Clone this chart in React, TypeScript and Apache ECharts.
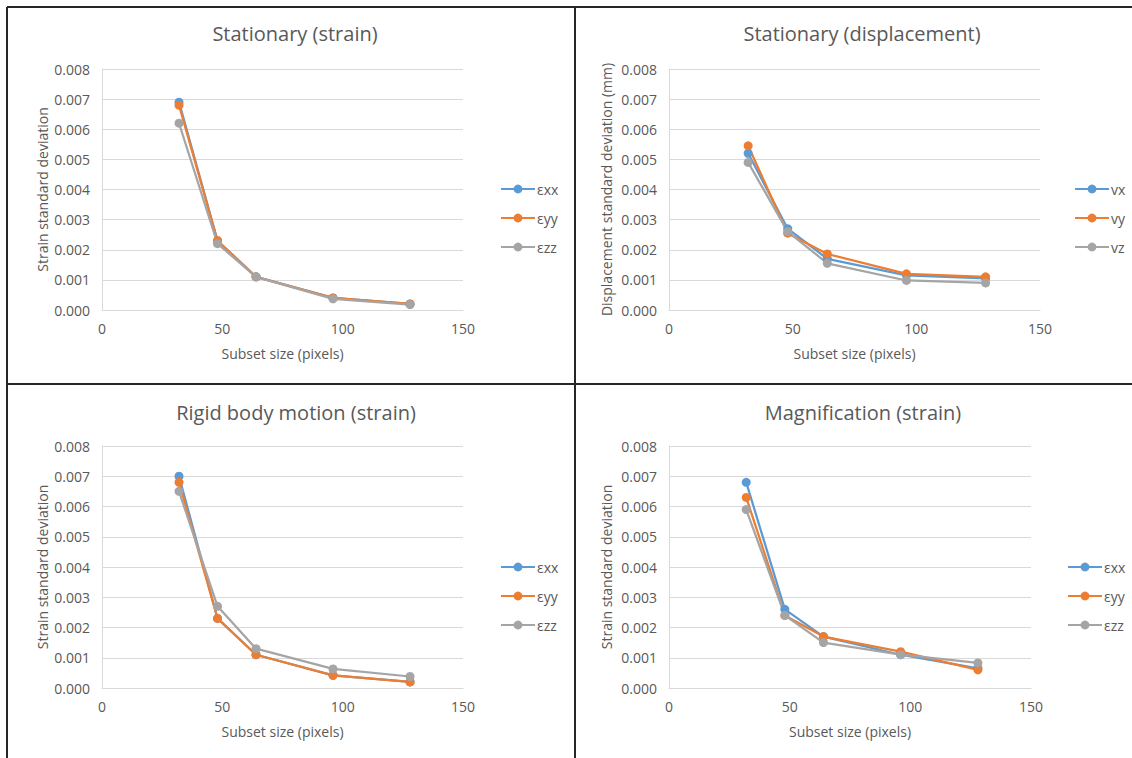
import React, { useEffect, useRef } from "react";
import * as echarts from "echarts";

const subsetSizes = [32, 48, 64, 96, 128];

const strainNames = ["εxx", "εyy", "εzz"];
const dispNames = ["vx", "vy", "vz"];

const titles = [
  "Stationary (strain)",
  "Stationary (displacement)",
  "Rigid body motion (strain)",
  "Magnification (strain)",
];

const yNames = [
  "Strain standard deviation",
  "Displacement standard deviation (mm)",
  "Strain standard deviation",
  "Strain standard deviation",
];

const xName = "Subset size (pixels)";

// Stationary (strain)
const statExx = [0.0069, 0.0023, 0.0011, 0.0004, 0.0002];
const statEyy = [0.0068, 0.0023, 0.0011, 0.0004, 0.0002];
const statEzz = [0.0062, 0.0022, 0.0011, 0.00037, 0.00018];

// Stationary (displacement)
const dispVx = [0.0052, 0.0027, 0.0017, 0.00115, 0.00105];
const dispVy = [0.00545, 0.00255, 0.00186, 0.0012, 0.0011];
const dispVz = [0.0049, 0.0026, 0.00155, 0.00098, 0.0009];

// Rigid body motion (strain)
const rigidExx = [0.007, 0.0023, 0.0011, 0.00042, 0.0002];
const rigidEyy = [0.0068, 0.0023, 0.0011, 0.00042, 0.0002];
const rigidEzz = [0.0065, 0.0027, 0.0013, 0.00063, 0.00038];

// Magnification (strain)
const magExx = [0.0068, 0.0026, 0.0017, 0.0011, 0.00065];
const magEyy = [0.0063, 0.0024, 0.0017, 0.0012, 0.0006];
const magEzz = [0.0059, 0.0024, 0.0015, 0.0011, 0.00083];

const colors = ["#5B9BD5", "#ED7D31", "#A5A5A5"];
const FONT = "'Open Sans', sans-serif";
const TXT = "#595959";
const GRID = "#D9D9D9";

export default function App() {
  const ref = useRef<HTMLDivElement>(null);

  useEffect(() => {
    if (!ref.current) return;
    const chart = echarts.init(ref.current, null, { renderer: "svg" });

    const grids = [
      { left: 102, right: 1132 - 463, top: 69, bottom: 758 - 310 },
      { left: 669, right: 1132 - 1040, top: 69, bottom: 758 - 310 },
      { left: 102, right: 1132 - 463, top: 446, bottom: 758 - 688 },
      { left: 669, right: 1132 - 1031, top: 446, bottom: 758 - 688 },
    ];

    const panelData = [
      { names: strainNames, vals: [statExx, statEyy, statEzz] },
      { names: dispNames, vals: [dispVx, dispVy, dispVz] },
      { names: strainNames, vals: [rigidExx, rigidEyy, rigidEzz] },
      { names: strainNames, vals: [magExx, magEyy, magEzz] },
    ];

    const titleCenters = [
      { x: 290, y: 18 },
      { x: 857, y: 18 },
      { x: 291, y: 397 },
      { x: 858, y: 397 },
    ];

    const legendPos = [
      { left: 495, top: 177 },
      { left: 1069, top: 177 },
      { left: 495, top: 555 },
      { left: 1062, top: 555 },
    ];

    const yNameGap = [53, 56, 53, 56];

    const series: any[] = [];
    panelData.forEach((p, gi) => {
      p.names.forEach((n, si) => {
        series.push({
          type: "line",
          name: n,
          xAxisIndex: gi,
          yAxisIndex: gi,
          data: subsetSizes.map((x, i) => [x, p.vals[si][i]]),
          symbol: "circle",
          symbolSize: 9,
          showSymbol: true,
          lineStyle: { width: 2.25, color: colors[si] },
          itemStyle: { color: colors[si] },
          emphasis: { disabled: true },
        });
      });
    });

    const option: any = {
      animation: false,
      textStyle: { fontFamily: FONT, color: TXT },
      color: colors,
      title: titles.map((t, i) => ({
        text: t,
        left: titleCenters[i].x,
        top: titleCenters[i].y,
        textAlign: "center",
        textStyle: { fontFamily: FONT, fontSize: 20, fontWeight: "normal", color: TXT },
      })),
      legend: panelData.map((p, i) => ({
        data: p.names,
        orient: "vertical",
        left: legendPos[i].left,
        top: legendPos[i].top,
        itemWidth: 34,
        itemHeight: 11,
        itemGap: 15,
        selectedMode: false,
        textStyle: { fontFamily: FONT, fontSize: 14, color: TXT, padding: [0, 0, 0, -3] },
      })),
      grid: grids.map((g) => ({ ...g, containLabel: false })),
      xAxis: grids.map((_, i) => ({
        type: "value",
        gridIndex: i,
        min: 0,
        max: 150,
        interval: 50,
        name: xName,
        nameLocation: "middle",
        nameGap: 36,
        nameTextStyle: { fontFamily: FONT, fontSize: 14, color: TXT },
        axisLine: { show: true, lineStyle: { color: GRID, width: 1 } },
        axisTick: { show: false },
        splitLine: { show: false },
        axisLabel: { fontFamily: FONT, fontSize: 14, color: TXT, margin: 11 },
      })),
      yAxis: grids.map((_, i) => ({
        type: "value",
        gridIndex: i,
        min: 0,
        max: 0.008,
        interval: 0.001,
        name: yNames[i],
        nameLocation: "middle",
        nameGap: yNameGap[i],
        nameTextStyle: { fontFamily: FONT, fontSize: 14, color: TXT },
        axisLine: { show: true, lineStyle: { color: GRID, width: 1 } },
        axisTick: { show: false },
        splitLine: { show: true, lineStyle: { color: GRID, width: 1 } },
        axisLabel: {
          fontFamily: FONT,
          fontSize: 14,
          color: TXT,
          margin: 12,
          formatter: (v: number) => v.toFixed(3),
        },
      })),
      series,
      graphic: [
        { type: "line", shape: { x1: 7, y1: 7, x2: 1132, y2: 7 }, style: { stroke: "#262626", lineWidth: 2 } },
        { type: "line", shape: { x1: 7, y1: 7, x2: 7, y2: 758 }, style: { stroke: "#262626", lineWidth: 2 } },
        { type: "line", shape: { x1: 575, y1: 7, x2: 575, y2: 758 }, style: { stroke: "#262626", lineWidth: 2 } },
        { type: "line", shape: { x1: 7, y1: 384, x2: 1132, y2: 384 }, style: { stroke: "#262626", lineWidth: 2 } },
      ],
    };

    chart.setOption(option);
    return () => chart.dispose();
  }, []);

  return (
    <div
      ref={ref}
      style={{ position: "fixed", left: 0, top: 0, width: 1132, height: 758, background: "#fff" }}
    />
  );
}
